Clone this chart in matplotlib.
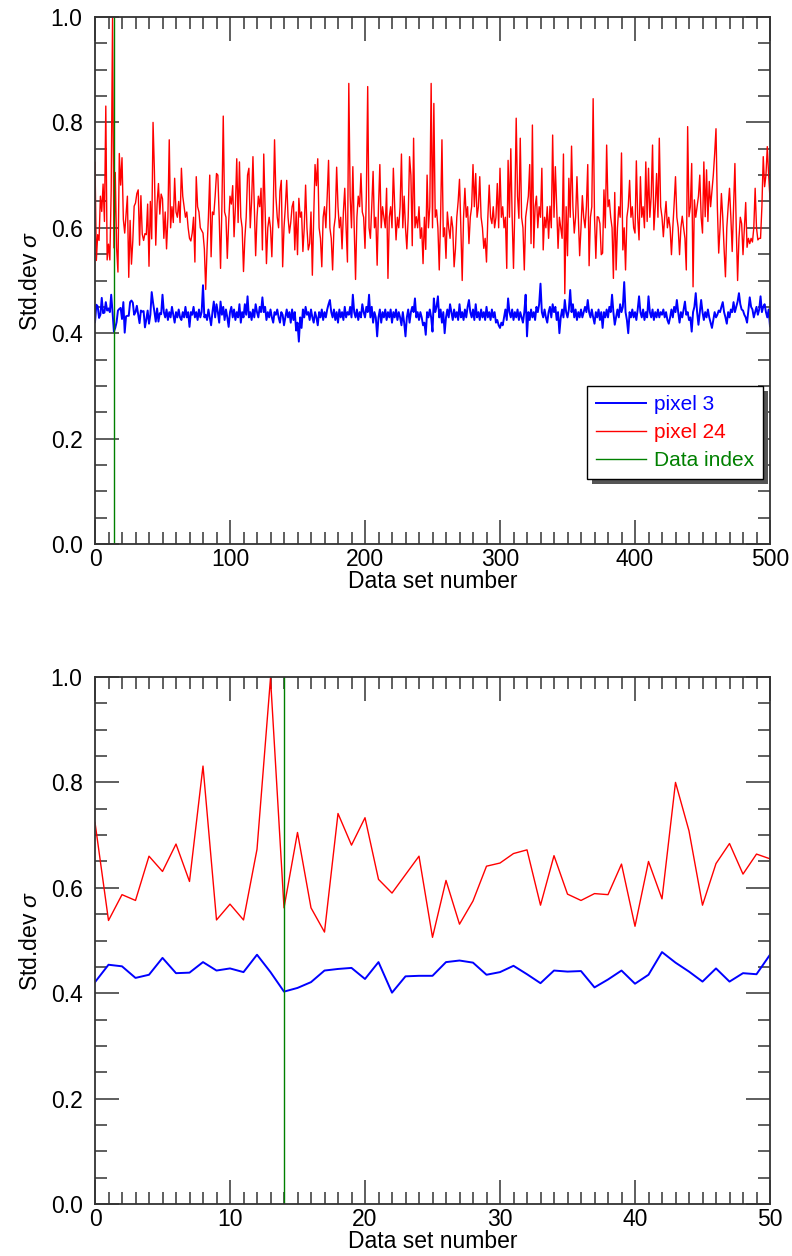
import matplotlib
matplotlib.use("Agg")
import matplotlib.pyplot as plt
from matplotlib.ticker import MultipleLocator
from matplotlib.patches import Rectangle
import numpy as np

plt.rcParams['font.family'] = ['Liberation Sans', 'DejaVu Sans']
plt.rcParams['mathtext.fontset'] = 'custom'
plt.rcParams['mathtext.it'] = 'Liberation Sans:italic'
plt.rcParams['mathtext.rm'] = 'Liberation Sans'

# Standard deviation per data set, pixel 24
pixel24 = [
    0.724, 0.538, 0.587, 0.576, 0.660, 0.631, 0.683, 0.612, 0.831, 0.539,
    0.569, 0.539, 0.673, 0.998, 0.562, 0.705, 0.562, 0.516, 0.741, 0.681,
    0.733, 0.616, 0.590, 0.625, 0.660, 0.506, 0.614, 0.531, 0.575, 0.641,
    0.647, 0.665, 0.672, 0.567, 0.661, 0.588, 0.576, 0.589, 0.587, 0.645,
    0.527, 0.650, 0.579, 0.800, 0.708, 0.567, 0.646, 0.684, 0.626, 0.664,
    0.655, 0.580, 0.630, 0.560, 0.620, 0.767, 0.600, 0.640, 0.610, 0.694,
    0.630, 0.620, 0.650, 0.610, 0.713, 0.660, 0.640, 0.620, 0.630, 0.600,
    0.580, 0.575, 0.590, 0.620, 0.535, 0.697, 0.640, 0.630, 0.600, 0.595,
    0.590, 0.560, 0.483, 0.560, 0.620, 0.700, 0.545, 0.630, 0.625, 0.660,
    0.703, 0.700, 0.620, 0.523, 0.640, 0.812, 0.630, 0.620, 0.542, 0.610,
    0.660, 0.645, 0.680, 0.583, 0.640, 0.731, 0.610, 0.725, 0.620, 0.600,
    0.517, 0.580, 0.620, 0.700, 0.713, 0.600, 0.650, 0.735, 0.640, 0.547,
    0.620, 0.660, 0.640, 0.675, 0.558, 0.740, 0.640, 0.532, 0.600, 0.620,
    0.600, 0.545, 0.630, 0.767, 0.660, 0.620, 0.600, 0.670, 0.690, 0.526,
    0.600, 0.640, 0.690, 0.620, 0.590, 0.610, 0.640, 0.650, 0.558, 0.630,
    0.549, 0.656, 0.620, 0.630, 0.555, 0.600, 0.681, 0.600, 0.558, 0.570,
    0.630, 0.510, 0.620, 0.720, 0.680, 0.731, 0.600, 0.580, 0.526, 0.620,
    0.640, 0.600, 0.660, 0.728, 0.600, 0.580, 0.520, 0.600, 0.620, 0.715,
    0.640, 0.600, 0.620, 0.560, 0.630, 0.675, 0.600, 0.535, 0.874, 0.660,
    0.600, 0.716, 0.600, 0.502, 0.620, 0.660, 0.640, 0.703, 0.630, 0.620,
    0.561, 0.660, 0.868, 0.600, 0.580, 0.640, 0.707, 0.600, 0.620, 0.529,
    0.640, 0.720, 0.600, 0.640, 0.620, 0.600, 0.675, 0.504, 0.620, 0.640,
    0.600, 0.713, 0.640, 0.577, 0.620, 0.600, 0.640, 0.740, 0.600, 0.660,
    0.600, 0.560, 0.620, 0.735, 0.700, 0.566, 0.770, 0.600, 0.621, 0.600,
    0.640, 0.580, 0.600, 0.532, 0.620, 0.559, 0.700, 0.600, 0.640, 0.874,
    0.600, 0.836, 0.620, 0.634, 0.600, 0.520, 0.620, 0.767, 0.583, 0.600,
    0.542, 0.630, 0.600, 0.580, 0.621, 0.600, 0.526, 0.560, 0.620, 0.650,
    0.692, 0.600, 0.500, 0.620, 0.675, 0.620, 0.640, 0.570, 0.620, 0.640,
    0.720, 0.640, 0.703, 0.620, 0.640, 0.697, 0.620, 0.600, 0.561, 0.580,
    0.535, 0.620, 0.681, 0.620, 0.608, 0.640, 0.600, 0.620, 0.684, 0.600,
    0.713, 0.620, 0.640, 0.600, 0.620, 0.523, 0.728, 0.620, 0.750, 0.620,
    0.523, 0.640, 0.808, 0.660, 0.618, 0.770, 0.620, 0.600, 0.520, 0.620,
    0.640, 0.660, 0.720, 0.570, 0.795, 0.562, 0.640, 0.660, 0.600, 0.640,
    0.620, 0.713, 0.558, 0.620, 0.600, 0.640, 0.580, 0.641, 0.600, 0.776,
    0.620, 0.716, 0.640, 0.561, 0.620, 0.600, 0.580, 0.740, 0.475, 0.640,
    0.547, 0.694, 0.620, 0.755, 0.640, 0.590, 0.620, 0.697, 0.620, 0.547,
    0.600, 0.661, 0.620, 0.600, 0.640, 0.720, 0.528, 0.620, 0.640, 0.845,
    0.620, 0.542, 0.621, 0.620, 0.608, 0.549, 0.552, 0.672, 0.600, 0.757,
    0.640, 0.653, 0.620, 0.600, 0.504, 0.667, 0.520, 0.600, 0.640, 0.620,
    0.742, 0.558, 0.600, 0.520, 0.620, 0.640, 0.690, 0.620, 0.640, 0.600,
    0.590, 0.727, 0.620, 0.577, 0.697, 0.620, 0.640, 0.600, 0.725, 0.612,
    0.713, 0.620, 0.660, 0.757, 0.596, 0.640, 0.703, 0.620, 0.770, 0.640,
    0.620, 0.583, 0.620, 0.650, 0.600, 0.620, 0.600, 0.549, 0.600, 0.646,
    0.697, 0.620, 0.600, 0.549, 0.600, 0.622, 0.600, 0.580, 0.520, 0.792,
    0.621, 0.640, 0.722, 0.488, 0.653, 0.620, 0.640, 0.660, 0.700, 0.620,
    0.590, 0.725, 0.621, 0.710, 0.612, 0.688, 0.640, 0.669, 0.700, 0.740,
    0.788, 0.640, 0.552, 0.600, 0.665, 0.620, 0.560, 0.507, 0.600, 0.640,
    0.675, 0.620, 0.555, 0.640, 0.722, 0.600, 0.500, 0.580, 0.620, 0.608,
    0.549, 0.600, 0.648, 0.563, 0.580, 0.570, 0.580, 0.573, 0.600, 0.675,
    0.600, 0.577, 0.580, 0.580, 0.640, 0.735, 0.678, 0.700, 0.754, 0.700,
    0.655,
]

# Standard deviation per data set, pixel 3
pixel3 = [
    0.421, 0.454, 0.451, 0.429, 0.435, 0.467, 0.438, 0.439, 0.459, 0.443,
    0.447, 0.440, 0.473, 0.440, 0.403, 0.410, 0.421, 0.443, 0.446, 0.448,
    0.427, 0.459, 0.401, 0.432, 0.433, 0.433, 0.459, 0.462, 0.458, 0.435,
    0.440, 0.452, 0.436, 0.419, 0.443, 0.441, 0.442, 0.411, 0.426, 0.443,
    0.418, 0.435, 0.478, 0.458, 0.441, 0.422, 0.447, 0.422, 0.438, 0.436,
    0.473, 0.440, 0.430, 0.445, 0.425, 0.440, 0.430, 0.450, 0.435, 0.420,
    0.440, 0.430, 0.445, 0.430, 0.425, 0.440, 0.430, 0.450, 0.430, 0.440,
    0.412, 0.440, 0.435, 0.450, 0.430, 0.440, 0.425, 0.445, 0.430, 0.440,
    0.491, 0.430, 0.435, 0.425, 0.445, 0.430, 0.415, 0.440, 0.460, 0.430,
    0.455, 0.440, 0.420, 0.460, 0.435, 0.450, 0.425, 0.445, 0.430, 0.412,
    0.440, 0.450, 0.430, 0.445, 0.425, 0.440, 0.430, 0.455, 0.420, 0.440,
    0.430, 0.455, 0.435, 0.470, 0.430, 0.440, 0.425, 0.445, 0.430, 0.455,
    0.440, 0.430, 0.450, 0.440, 0.468, 0.440, 0.450, 0.425, 0.440, 0.430,
    0.445, 0.430, 0.420, 0.440, 0.435, 0.445, 0.430, 0.420, 0.440, 0.435,
    0.415, 0.430, 0.445, 0.430, 0.440, 0.420, 0.445, 0.425, 0.440, 0.405,
    0.420, 0.384, 0.430, 0.410, 0.445, 0.430, 0.450, 0.435, 0.440, 0.425,
    0.445, 0.430, 0.420, 0.440, 0.430, 0.415, 0.440, 0.430, 0.445, 0.425,
    0.440, 0.430, 0.445, 0.455, 0.463, 0.440, 0.430, 0.445, 0.425, 0.440,
    0.420, 0.445, 0.430, 0.440, 0.425, 0.450, 0.430, 0.440, 0.435, 0.450,
    0.430, 0.473, 0.440, 0.430, 0.445, 0.425, 0.440, 0.430, 0.455, 0.440,
    0.430, 0.450, 0.440, 0.473, 0.430, 0.450, 0.420, 0.440, 0.430, 0.394,
    0.430, 0.445, 0.420, 0.440, 0.430, 0.445, 0.425, 0.440, 0.430, 0.445,
    0.420, 0.440, 0.430, 0.445, 0.425, 0.440, 0.430, 0.415, 0.440, 0.420,
    0.394, 0.430, 0.445, 0.420, 0.440, 0.450, 0.440, 0.466, 0.430, 0.440,
    0.425, 0.440, 0.430, 0.415, 0.420, 0.397, 0.440, 0.430, 0.445, 0.430,
    0.403, 0.466, 0.440, 0.450, 0.470, 0.430, 0.445, 0.420, 0.440, 0.400,
    0.430, 0.445, 0.430, 0.455, 0.440, 0.425, 0.445, 0.430, 0.440, 0.425,
    0.455, 0.430, 0.440, 0.425, 0.445, 0.430, 0.450, 0.463, 0.440, 0.430,
    0.445, 0.425, 0.455, 0.430, 0.440, 0.425, 0.445, 0.430, 0.440, 0.425,
    0.450, 0.430, 0.440, 0.425, 0.445, 0.430, 0.440, 0.420, 0.425, 0.415,
    0.410, 0.420, 0.415, 0.430, 0.445, 0.425, 0.466, 0.440, 0.430, 0.445,
    0.425, 0.440, 0.430, 0.445, 0.425, 0.440, 0.430, 0.420, 0.440, 0.473,
    0.394, 0.440, 0.425, 0.445, 0.430, 0.440, 0.425, 0.450, 0.440, 0.455,
    0.494, 0.440, 0.430, 0.445, 0.430, 0.420, 0.440, 0.450, 0.430, 0.455,
    0.440, 0.450, 0.425, 0.440, 0.400, 0.430, 0.445, 0.430, 0.463, 0.440,
    0.430, 0.445, 0.482, 0.440, 0.455, 0.430, 0.445, 0.425, 0.440, 0.430,
    0.445, 0.430, 0.440, 0.450, 0.440, 0.463, 0.440, 0.430, 0.445, 0.430,
    0.418, 0.440, 0.430, 0.445, 0.425, 0.440, 0.410, 0.440, 0.430, 0.445,
    0.430, 0.450, 0.440, 0.473, 0.440, 0.416, 0.430, 0.445, 0.430, 0.455,
    0.440, 0.450, 0.497, 0.440, 0.425, 0.400, 0.440, 0.430, 0.445, 0.430,
    0.440, 0.425, 0.445, 0.470, 0.440, 0.430, 0.445, 0.425, 0.440, 0.430,
    0.470, 0.440, 0.430, 0.445, 0.425, 0.440, 0.430, 0.445, 0.430, 0.440,
    0.435, 0.445, 0.430, 0.440, 0.425, 0.418, 0.430, 0.445, 0.430, 0.450,
    0.440, 0.463, 0.440, 0.420, 0.440, 0.430, 0.445, 0.460, 0.435, 0.440,
    0.425, 0.430, 0.403, 0.440, 0.450, 0.476, 0.440, 0.416, 0.440, 0.463,
    0.440, 0.425, 0.440, 0.430, 0.445, 0.430, 0.420, 0.410, 0.425, 0.440,
    0.430, 0.435, 0.443, 0.440, 0.450, 0.459, 0.440, 0.430, 0.418, 0.440,
    0.430, 0.445, 0.440, 0.459, 0.440, 0.450, 0.460, 0.476, 0.455, 0.445,
    0.443, 0.435, 0.430, 0.420, 0.445, 0.468, 0.450, 0.445, 0.430, 0.440,
    0.450, 0.435, 0.445, 0.470, 0.440, 0.450, 0.455, 0.440, 0.430, 0.445,
    0.413,
]

data_index = 14
x_ticks_top = [0, 100, 200, 300, 400, 500]
x_ticks_bottom = [0, 10, 20, 30, 40, 50]
y_ticks = [0.0, 0.2, 0.4, 0.6, 0.8, 1.0]

W, H = 792, 1256
fig = plt.figure(figsize=(W / 100, H / 100), dpi=100)

ax_left = 95 / W
ax_w = 675 / W
ax_h = 527 / H
ax_top = fig.add_axes([ax_left, 1 - 544 / H, ax_w, ax_h])
ax_bot = fig.add_axes([ax_left, 1 - 1204 / H, ax_w, ax_h])

x = np.arange(len(pixel3))
axis_col = '#333333'
fs = 16.5


def style(ax, xmax, xminor, xticks):
    ax.set_xlim(0, xmax)
    ax.set_ylim(0, 1)
    ax.set_xticks(xticks)
    ax.set_yticks(y_ticks)
    ax.set_yticklabels([f"{v:.1f}" for v in y_ticks])
    ax.xaxis.set_minor_locator(MultipleLocator(xminor))
    ax.yaxis.set_minor_locator(MultipleLocator(0.05))
    ax.tick_params(which='both', direction='in', top=True, right=True,
                   color=axis_col, width=1.1, labelsize=fs)
    ax.tick_params(which='major', length=17)
    ax.tick_params(which='minor', length=8.5)
    ax.tick_params(axis='x', which='major', pad=3)
    ax.tick_params(axis='y', which='major', pad=9)
    for s in ax.spines.values():
        s.set_color(axis_col)
        s.set_linewidth(1.3)
    ax.set_xlabel('Data set number', fontsize=fs, labelpad=-1)
    ax.set_ylabel(r'Std.dev $\sigma$', fontsize=fs, labelpad=6)


for ax, xmax, xminor, xt in [(ax_top, 500, 10, x_ticks_top),
                              (ax_bot, 50, 1, x_ticks_bottom)]:
    ax.plot(x, pixel3, color='#0000ff', lw=1.4, label='pixel 3')
    ax.plot(x, pixel24, color='#ff0000', lw=1.0, label='pixel 24')
    ax.axvline(data_index, color='#008000', lw=1.0, label='Data index')
    style(ax, xmax, xminor, xt)

leg = ax_top.legend(loc='upper left', bbox_to_anchor=((587 - 95) / 675, (544 - 386) / 527),
                    borderaxespad=0, fancybox=False, shadow=False, framealpha=1,
                    edgecolor='black', fontsize=15, labelcolor='linecolor',
                    handlelength=2.4, handletextpad=0.35, borderpad=0.45,
                    labelspacing=0.42)
leg.get_frame().set_linewidth(1.0)
leg.set_zorder(5)

# drop shadow behind the legend box
fig.canvas.draw()
bb = leg.get_frame().get_window_extent()
off = 5
shadow = Rectangle((bb.x0 + off, bb.y0 - off), bb.width, bb.height,
                   transform=None, facecolor='#555555', edgecolor='none', zorder=4)
ax_top.add_artist(shadow)

fig.savefig('out.png', dpi=100)
